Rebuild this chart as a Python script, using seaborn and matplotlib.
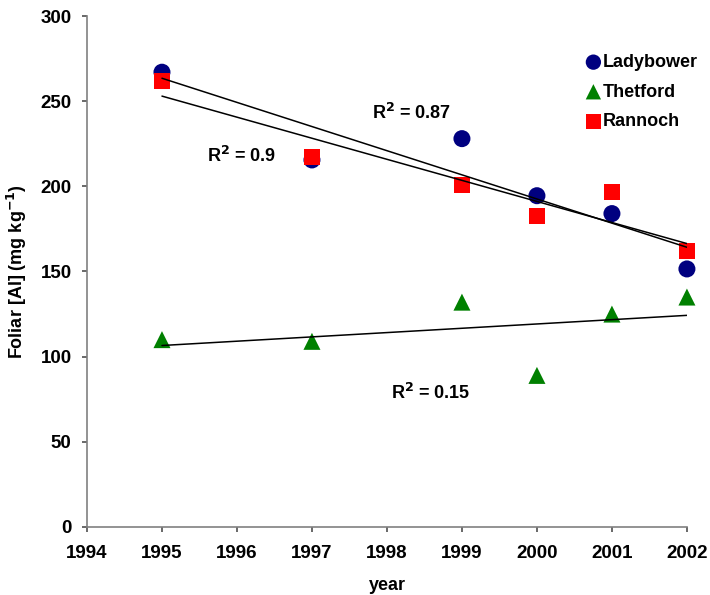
import numpy as np
import pandas as pd
import matplotlib
matplotlib.use("Agg")
import matplotlib.pyplot as plt
import seaborn as sns

years = [1995, 1997, 1999, 2000, 2001, 2002]
ladybower = [267, 215.5, 228, 194.5, 184, 151.5]
thetford = [110, 109, 132, 89, 125, 135]
rannoch = [262, 217, 201, 182.5, 196.5, 162]
sites = ["Ladybower", "Thetford", "Rannoch"]
r2_labels = ["0.87", "0.15", "0.9"]
colors = {"Ladybower": "#000080", "Thetford": "#008000", "Rannoch": "#FF0000"}
markers = {"Ladybower": "o", "Thetford": "^", "Rannoch": "s"}
sizes = {"Ladybower": 150, "Thetford": 150, "Rannoch": 130}

sns.set_style("white")
plt.rcParams["font.family"] = ["Liberation Sans", "DejaVu Sans"]
plt.rcParams["text.color"] = "black"
plt.rcParams["axes.labelcolor"] = "black"

df = pd.DataFrame({
    "year": years * 3,
    "al": ladybower + thetford + rannoch,
    "site": sum([[s] * len(years) for s in sites], []),
})

fig = plt.figure(figsize=(7.1, 5.95), dpi=100)
ax = fig.add_axes([0.1225, 0.1143, 0.845, 0.8588])

for s in sites:
    sub = df[df.site == s]
    sns.scatterplot(data=sub, x="year", y="al", color=colors[s], marker=markers[s],
                    s=sizes[s], edgecolor="none", ax=ax, label=s, zorder=3, clip_on=False)

for s in sites:
    sub = df[df.site == s]
    sns.regplot(data=sub, x="year", y="al", scatter=False, ci=None, truncate=True,
                line_kws={"color": "black", "lw": 1.1, "zorder": 4}, ax=ax)

tkw = dict(fontsize=13, fontweight="bold", ha="left", va="center", color="black")
ax.text(1997.8, 243, r"R$^{\mathbf{2}}$ = " + r2_labels[0], **tkw)
ax.text(1995.6, 218, r"R$^{\mathbf{2}}$ = " + r2_labels[2], **tkw)
ax.text(1998.05, 78.5, r"R$^{\mathbf{2}}$ = " + r2_labels[1], **tkw)

ax.set_xlim(1994, 2002)
ax.set_ylim(0, 300)
ax.set_xticks(range(1994, 2003))
ax.set_yticks(range(0, 301, 50))
for lab in ax.get_xticklabels() + ax.get_yticklabels():
    lab.set_fontweight("bold")
    lab.set_fontsize(13.5)
ax.set_xlabel("year", fontsize=13, fontweight="bold", labelpad=11, color="black")
ax.set_ylabel(r"Foliar [Al] (mg kg$^{\mathbf{-1}}$)", fontsize=13, fontweight="bold",
              labelpad=8, color="black")

sns.despine(ax=ax)
for sp in ["left", "bottom"]:
    ax.spines[sp].set_color("#808080")
    ax.spines[sp].set_linewidth(1.2)
ax.tick_params(axis="both", direction="out", length=3.6, width=1.1, color="#404040",
               labelcolor="black", bottom=True, left=True)
ax.tick_params(axis="x", pad=9.5)
ax.tick_params(axis="y", pad=7.5)

leg = ax.legend(loc="upper left", bbox_to_anchor=(0.817, 0.94), frameon=False,
                fontsize=13, handletextpad=0.0, labelspacing=0.7, markerscale=0.9,
                handlelength=1.0, borderaxespad=0.0)
for t in leg.get_texts():
    t.set_fontweight("bold")
    t.set_color("black")

fig.savefig("out.png", dpi=100)
